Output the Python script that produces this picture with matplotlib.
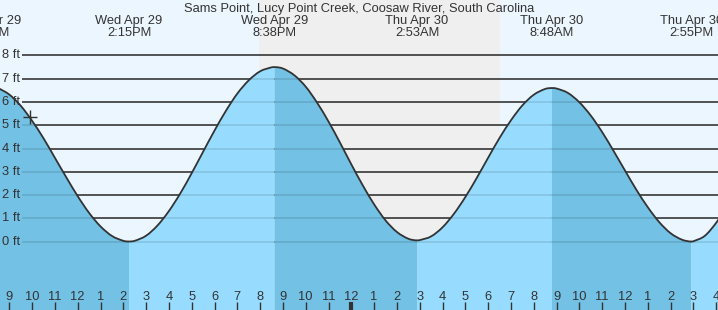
import matplotlib
matplotlib.use("Agg")
import matplotlib.pyplot as plt
import matplotlib.transforms as mtransforms
from matplotlib.path import Path
from matplotlib.patches import PathPatch
import numpy as np

plt.rcParams['font.family'] = ['Liberation Sans', 'DejaVu Sans']

TITLE = "Sams Point, Lucy Point Creek, Coosaw River, South Carolina"

# hours since midnight, Wed Apr 29
curve_t = [8.5, 9.0, 9.5, 10.0, 10.5, 11.0, 11.5, 12.0, 12.5, 13.0, 13.5, 14.0, 14.25,
           14.5, 15.0, 15.5, 16.0, 16.5, 17.0, 17.5, 18.0, 18.5, 19.0, 19.5, 20.0, 20.5, 20.633,
           21.0, 21.5, 22.0, 22.5, 23.0, 23.5, 24.0, 24.5, 25.0, 25.5, 26.0, 26.5, 26.883,
           27.0, 27.5, 28.0, 28.5, 29.0, 29.5, 30.0, 30.5, 31.0, 31.5, 32.0, 32.5, 32.8,
           33.0, 33.5, 34.0, 34.5, 35.0, 35.5, 36.0, 36.5, 37.0, 37.5, 38.0, 38.5, 38.917,
           39.0, 39.5, 40.0, 40.5]
curve_ft = [6.61, 6.32, 5.84, 5.19, 4.44, 3.60, 2.76, 1.95, 1.23, 0.65, 0.24, 0.03, 0.0,
            0.03, 0.25, 0.69, 1.31, 2.07, 2.94, 3.86, 4.77, 5.62, 6.36, 6.93, 7.32, 7.49, 7.5,
            7.44, 7.15, 6.66, 5.97, 5.16, 4.26, 3.32, 2.42, 1.60, 0.91, 0.41, 0.12, 0.05,
            0.06, 0.22, 0.61, 1.19, 1.91, 2.73, 3.60, 4.45, 5.21, 5.85, 6.31, 6.56, 6.6,
            6.58, 6.39, 5.99, 5.42, 4.71, 3.90, 3.06, 2.23, 1.48, 0.84, 0.36, 0.08, 0.0,
            0.01, 0.24, 0.80, 1.52]

# high / low tide events
event_t = [8.05, 14.25, 20.633, 26.883, 32.8, 38.917]
event_ft = [6.7, 0.0, 7.5, 0.05, 6.6, 0.0]
event_day = ["Wed Apr 29", "Wed Apr 29", "Wed Apr 29", "Thu Apr 30", "Thu Apr 30", "Thu Apr 30"]
event_time = ["8:03AM", "2:15PM", "8:38PM", "2:53AM", "8:48AM", "2:55PM"]

# night (sunset -> sunrise)
night_start, night_end = 19.95, 30.52
now_t, now_ft = 9.92, 5.37

hour_ticks = list(range(9, 41))
ft_levels = [0, 1, 2, 3, 4, 5, 6, 7, 8]

W, H = 718, 310
fig = plt.figure(figsize=(W / 100, H / 100), dpi=100)
ax = fig.add_axes([0, 0, 1, 1])
ax.set_axis_off()
X0, X1 = 8.592, 40.083
Y0, Y1 = -2.946, 10.387
ax.set_xlim(X0, X1)
ax.set_ylim(Y0, Y1)

DAY = "#ecf6ff"
NIGHT = "#efefef"
DARK = "#73c1e5"
LIGHT = "#97dcfe"
INK = "#333333"

ax.axvspan(X0, X1, color=DAY, lw=0, zorder=0)
ax.axvspan(night_start, night_end, color=NIGHT, lw=0, zorder=0.5)

def px_to_x(px):
    return X0 + (X1 - X0) * px / W

line_x0 = px_to_x(22)
ax.hlines(ft_levels, line_x0, X1, color=INK, lw=1.1, zorder=1)

t = np.array(curve_t)
h = np.array(curve_ft)
n = len(t)
# slopes for a smooth Bezier path through the read points (zero at tide extremes)
slope = np.zeros(n)
for i in range(n):
    if t[i] in event_t:
        slope[i] = 0.0
    elif i == 0:
        slope[i] = (h[1] - h[0]) / (t[1] - t[0])
    elif i == n - 1:
        slope[i] = (h[-1] - h[-2]) / (t[-1] - t[-2])
    else:
        slope[i] = (h[i + 1] - h[i - 1]) / (t[i + 1] - t[i - 1])

def bezier_verts(i0, i1):
    verts = [(t[i0], h[i0])]
    codes = [Path.MOVETO]
    for i in range(i0, i1):
        dt = t[i + 1] - t[i]
        verts += [(t[i] + dt / 3, h[i] + slope[i] * dt / 3),
                  (t[i + 1] - dt / 3, h[i + 1] - slope[i + 1] * dt / 3),
                  (t[i + 1], h[i + 1])]
        codes += [Path.CURVE4] * 3
    return verts, codes

bounds = [t[0]] + event_t[1:] + [t[-1]]
for k in range(len(bounds) - 1):
    i0 = int(np.argmin(np.abs(t - bounds[k])))
    i1 = int(np.argmin(np.abs(t - bounds[k + 1])))
    nxt = event_ft[k + 1] if k + 1 < len(event_ft) else 99
    falling = event_ft[k] > nxt
    v, c = bezier_verts(i0, i1)
    v += [(t[i1], Y0), (t[i0], Y0), (t[i0], h[i0])]
    c += [Path.LINETO, Path.LINETO, Path.CLOSEPOLY]
    ax.add_patch(PathPatch(Path(v, c), facecolor=DARK if falling else LIGHT,
                           edgecolor='none', lw=0, zorder=2))

ax.hlines(ft_levels, line_x0, X1, color=(0, 0, 0, 0.13), lw=1.1, zorder=2.5)
v, c = bezier_verts(0, n - 1)
ax.add_patch(PathPatch(Path(v, c), facecolor='none', edgecolor=INK, lw=1.3, zorder=3))
ax.plot([now_t], [now_ft], marker='+', ms=10, mew=1.0, color=INK, zorder=4)

blend = mtransforms.blended_transform_factory(ax.transData, ax.transAxes)
blend_y = mtransforms.blended_transform_factory(ax.transAxes, ax.transData)

def yfrac(py):
    return 1 - py / H

FS = 9.3
for lv in ft_levels:
    ax.text(20 / W, lv, f"{lv} ft", transform=blend_y, ha='right', va='center',
            fontsize=FS, color=INK, zorder=5)

for ht in hour_ticks:
    lab = str((ht - 1) % 12 + 1)
    ax.text(ht, yfrac(300), lab, transform=blend, ha='center', va='baseline',
            fontsize=FS, color=INK, zorder=5)
    ax.plot([ht, ht], [yfrac(302), 0], transform=blend,
            color=INK, lw=3 if ht % 24 == 0 else 1, solid_capstyle='butt', zorder=5)

for et, d, tm in zip(event_t, event_day, event_time):
    ax.text(et, yfrac(24), d, transform=blend, ha='center', va='baseline',
            fontsize=FS, color=INK, zorder=5)
    ax.text(et, yfrac(36), tm, transform=blend, ha='center', va='baseline',
            fontsize=FS, color=INK, zorder=5)

ax.text(0.5, yfrac(12), TITLE, transform=ax.transAxes, ha='center', va='baseline',
        fontsize=FS, color=INK, zorder=5)

fig.savefig("out.png", dpi=100)
